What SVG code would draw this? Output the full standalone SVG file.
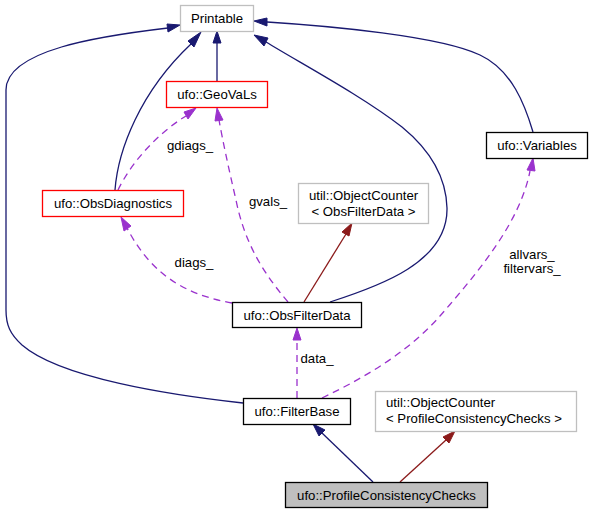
<svg xmlns="http://www.w3.org/2000/svg" width="593" height="513" viewBox="0 0 593 513">
<style>
text{font-family:"Liberation Sans",Arial,sans-serif;font-size:13.2px;fill:#000}
.c{text-anchor:middle}
.box{fill:#fff;stroke:#000;stroke-width:1.3}
.gray{fill:#fff;stroke:#bfbfbf;stroke-width:1.3}
.red{fill:#fff;stroke:#ff0000;stroke-width:1.3}
.inh{fill:none;stroke:#191970;stroke-width:1.3}
.tpl{fill:none;stroke:#8b1a1a;stroke-width:1.3}
.use{fill:none;stroke:#9a32cd;stroke-width:1.3;stroke-dasharray:7,5}
.ah{fill:#191970;stroke:#191970}
.ar{fill:#8b1a1a;stroke:#8b1a1a}
.ap{fill:#9a32cd;stroke:#9a32cd}
</style>
<rect width="593" height="513" fill="#fff"/>
<g id="connectors">
  <!-- FilterBase -> Printable -->
  <path class="inh" d="M243,403 C170,395 60,378 22,345 C10,334 6,325 6,310 L6,90 C6,50 100,36 168,28"/>
  <polygon class="ah" points="167,24 180,25 168,32"/>
  <!-- ObsDiagnostics -> Printable -->
  <path class="inh" d="M115,190 C118,150 140,92 191,44"/>
  <polygon class="ah" points="188,41 201,32 194,47"/>
  <!-- GeoVaLs -> Printable -->
  <path class="inh" d="M217,81 L217,43"/>
  <polygon class="ah" points="213,43 217,31 221,43"/>
  <!-- ObsFilterData -> Printable -->
  <path class="inh" d="M330,302 C380,286 448,262 447,208 C446,172 424,145 402,127 C362,96 302,64 266,42"/>
  <polygon class="ah" points="264,46 254,35 268,38"/>
  <!-- Variables -> Printable -->
  <path class="inh" d="M533,132 C525,105 512,70 480,55 C440,36 330,26 267,22"/>
  <polygon class="ah" points="267,18 254,21 267,26"/>
  <!-- ObjectCounter<ObsFilterData> -> ObsFilterData -->
  <path class="tpl" d="M304,302 L346,234"/>
  <polygon class="ar" points="342,232 352,223 349,236"/>
  <!-- gdiags_ -->
  <path class="use" d="M118,190 C130,165 155,135 186,116"/>
  <polygon class="ap" points="184,112 196,108 188,119"/>
  <!-- gvals_ -->
  <path class="use" d="M288,302 C265,275 245,245 236,200 C229,170 223,142 219,120"/>
  <polygon class="ap" points="215,121 217,108 223,120"/>
  <!-- diags_ -->
  <path class="use" d="M232,303 C195,296 155,282 127,228"/>
  <polygon class="ap" points="124,231 121,217 131,226"/>
  <!-- data_ -->
  <path class="use" d="M297,398 L297,340"/>
  <polygon class="ap" points="293,340 297,328 301,340"/>
  <!-- allvars_ filtervars_ -->
  <path class="use" d="M322,398 C370,375 410,350 440,316 C480,270 520,222 530,171"/>
  <polygon class="ap" points="527,170 533,158 535,171"/>
  <!-- PCC -> FilterBase -->
  <path class="inh" d="M373,482 L322,433"/>
  <polygon class="ah" points="319,436 313,424 325,430"/>
  <!-- PCC -> ObjectCounter<PCC> -->
  <path class="tpl" d="M400,482 L446,440"/>
  <polygon class="ar" points="443,437 455,431 449,443"/>
  <text class="c" x="190" y="150">gdiags_</text>
  <text class="c" x="268" y="206">gvals_</text>
  <text class="c" x="194" y="267">diags_</text>
  <text class="c" x="317" y="363">data_</text>
  <text class="c" x="532" y="259">allvars_</text>
  <text class="c" x="532" y="273">filtervars_</text>
</g>
<g id="Printable">
  <rect class="gray" x="180.5" y="5.5" width="73" height="26"/>
  <text class="c" x="217" y="23">Printable</text>
</g>
<g id="GeoVaLs">
  <rect class="red" x="166.5" y="81.5" width="101" height="26"/>
  <text class="c" x="217" y="99">ufo::GeoVaLs</text>
</g>
<g id="ObsDiagnostics">
  <rect class="red" x="42.5" y="190.5" width="141" height="26"/>
  <text class="c" x="113" y="208">ufo::ObsDiagnostics</text>
</g>
<g id="ObjectCounterObsFilterData">
  <rect class="gray" x="298.5" y="183.5" width="130" height="40"/>
  <text class="c" x="363.5" y="200">util::ObjectCounter</text>
  <text class="c" x="363.5" y="215.5">&lt; ObsFilterData &gt;</text>
</g>
<g id="ObsFilterData">
  <rect class="box" x="232.5" y="302.5" width="129" height="25"/>
  <text class="c" x="297" y="319.5">ufo::ObsFilterData</text>
</g>
<g id="Variables">
  <rect class="box" x="486.5" y="132.5" width="101" height="26"/>
  <text class="c" x="537" y="150">ufo::Variables</text>
</g>
<g id="FilterBase">
  <rect class="box" x="243.5" y="398.5" width="107" height="26"/>
  <text class="c" x="297" y="416">ufo::FilterBase</text>
</g>
<g id="ObjectCounterPCC">
  <rect class="gray" x="375.5" y="391.5" width="201" height="40"/>
  <text x="386" y="407">util::ObjectCounter</text>
  <text x="386" y="422.5">&lt; ProfileConsistencyChecks &gt;</text>
</g>
<g id="ProfileConsistencyChecks">
  <rect x="285.5" y="482.5" width="202" height="25" fill="#bfbfbf" stroke="#000" stroke-width="1.3"/>
  <text class="c" x="386.5" y="499.5">ufo::ProfileConsistencyChecks</text>
</g>
</svg>
